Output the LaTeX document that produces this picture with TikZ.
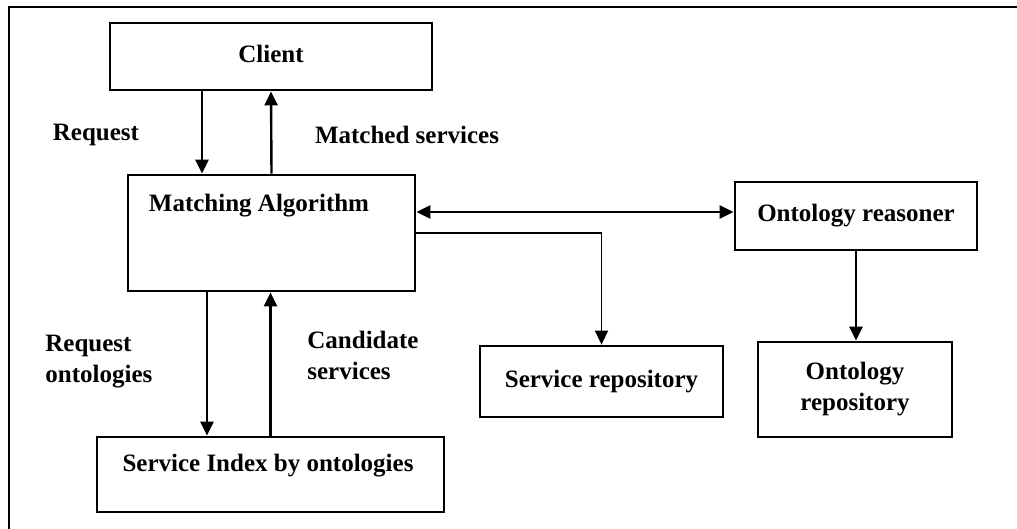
\documentclass[tikz,border=0pt]{standalone}
\usepackage{fontspec}
\setmainfont{Liberation Serif}
\usetikzlibrary{arrows.meta, positioning}
\tikzset{
  box/.style={
    rectangle, draw=black, fill=white, line width=1.4pt,
    inner sep=0pt, align=center,
    font=\fontsize{12.5}{15.5}\selectfont\bfseries
  },
  lbl/.style={inner sep=0pt, align=left, font=\fontsize{12.5}{15.5}\selectfont\bfseries},
  arrow/.style={-{Triangle[length=7pt,width=6.5pt]}, line width=1.2pt, draw=black},
  thinarrow/.style={arrow, line width=0.8pt},
  dblarrow/.style={{Triangle[length=7pt,width=6.5pt]}-{Triangle[length=7pt,width=6.5pt]}, line width=1.2pt, draw=black},
}
\begin{document}
\begin{tikzpicture}[x=0.5pt, y=-0.5pt]
  \useasboundingbox (0,0) rectangle (1017,529);
  % frame
  \draw[line width=1pt] (1017,7) -- (9,7) -- (9,529);

  \node[box, minimum width=161pt, minimum height=33.5pt, text depth=3pt] (client) at (271,56.5) {Client};
  \node[box, minimum width=143.5pt, minimum height=58pt] (match) at (271.5,233) {};
  \node[lbl] (matchtxt) at (259,206) {Matching Algorithm};
  \node[box, minimum width=173.5pt, minimum height=37.5pt] (index) at (270.5,474.5) {};
  \node[lbl] (indextxt) at (268,466) {Service Index by ontologies};
  \node[box, minimum width=121.5pt, minimum height=35.5pt] (repo) at (601.5,381.5) {Service repository};
  \node[box, minimum width=121pt, minimum height=34pt] (reasoner) at (856,216) {Ontology reasoner};
  \node[box, minimum width=97pt, minimum height=47.5pt] (ontrepo) at (855,389.5) {Ontology\\repository};

  % client <-> matching
  \draw[arrow] ([xshift=-34.5pt]client.south) coordinate (rq) -- (rq |- match.north);
  \draw[arrow] (match.north) -- (client.south);
  \node[lbl] (reqlbl) at (96,135) {Request};
  \node[lbl] (matchedlbl) at (407,135) {Matched services};

  % matching <-> index
  \draw[arrow] ([xshift=-32.25pt]match.south) coordinate (ro) -- (ro |- index.north);
  \draw[arrow] (index.north) -- (index.north |- match.south);
  \node[lbl, anchor=west] (reqontlbl) at (45,362) {Request\\ontologies};
  \node[lbl, anchor=west] (candlbl) at (307,355) {Candidate\\services};

  % right side
  \draw[dblarrow] ([yshift=10.5pt]match.east) coordinate (dq) -- (dq -| reasoner.west);
  \draw[thinarrow] (match.east) -| (repo.north);
  \draw[arrow] (reasoner.south) -- (reasoner.south |- ontrepo.north);
\end{tikzpicture}
\end{document}
